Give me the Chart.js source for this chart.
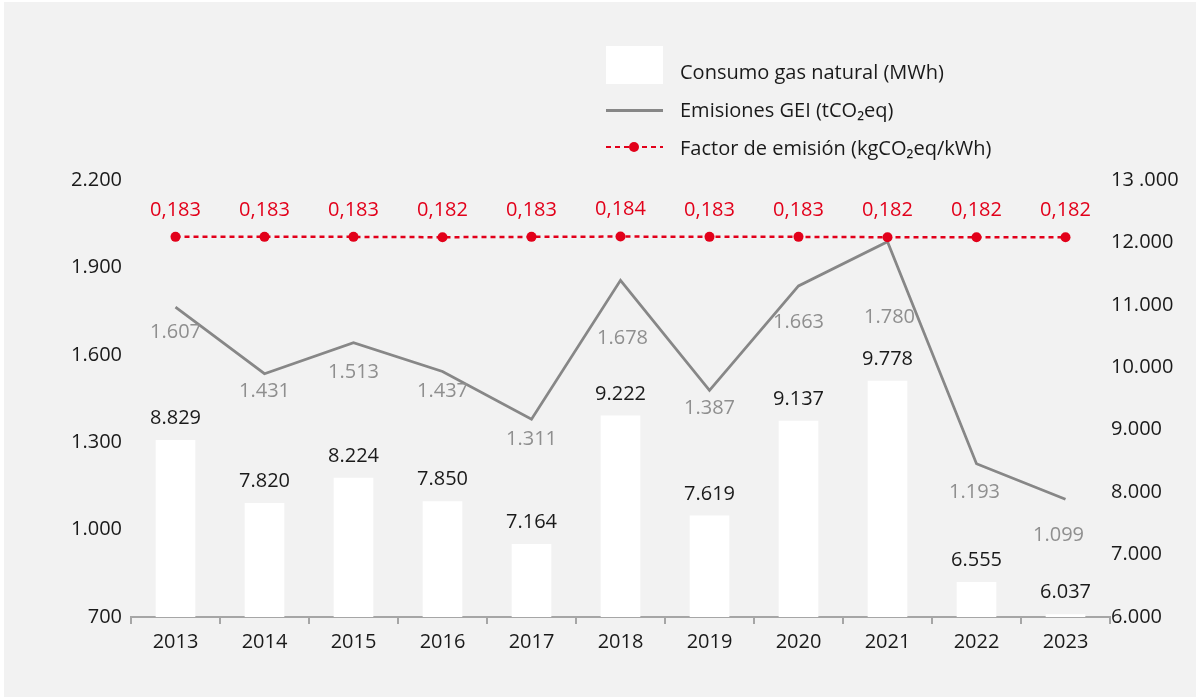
<!DOCTYPE html>
<html lang="es">
<head>
<meta charset="utf-8">
<title>Consumo gas natural y emisiones GEI</title>
<script src="https://cdn.jsdelivr.net/npm/chart.js@4.4.1/dist/chart.umd.min.js"></script>
<style>
  html, body { margin: 0; padding: 0; background: #ffffff; }
  #panel { position: absolute; left: 4px; top: 2px; width: 1192px; height: 695px; background: #f2f2f2; }
  #chart { position: absolute; left: 0; top: 0; }
  #leyenda { position: absolute; left: 606px; top: 46px; font-family: "Open Sans", sans-serif; font-size: 20px; color: #1a1a1a; }
  .item { position: relative; height: 38px; }
  .item .txt { position: absolute; left: 74px; top: 50%; margin-top: 6px; transform: translateY(-50%); white-space: nowrap; }
  .sw-bar { position: absolute; left: 0; top: 0; width: 57px; height: 38px; background: #fff; }
  .sw-line { position: absolute; left: 0; top: 50%; width: 57px; height: 3px; margin-top: 6px; }
  .sw-dash { position: absolute; left: 0; top: 50%; width: 57px; height: 2px; margin-top: 5px; }
  .sw-dot { position: absolute; left: 23px; top: 50%; width: 10px; height: 10px; margin-top: 1px; border-radius: 50%; }
</style>
</head>
<body>
<div id="panel"></div>
<canvas id="chart" width="1197" height="699"></canvas>
<div id="leyenda"></div>
<script>
// Datos
const years = ['2013', '2014', '2015', '2016', '2017', '2018', '2019', '2020', '2021', '2022', '2023'];
const gasMWh = [8829, 7820, 8224, 7850, 7164, 9222, 7619, 9137, 9778, 6555, 6037];
const emisionesGEI = [1607, 1431, 1513, 1437, 1311, 1678, 1387, 1663, 1780, 1193, 1099];
const factorEmision = [0.183, 0.183, 0.183, 0.182, 0.183, 0.184, 0.183, 0.183, 0.182, 0.182, 0.182];
const leftTicks = ['700', '1.000', '1.300', '1.600', '1.900', '2.200'];
const rightTicks = ['6.000', '7.000', '8.000', '9.000', '10.000', '11.000', '12.000', '13 .000'];

// ajuste de las etiquetas grises (estilo, no datos)
const grayLabelDy = [25, 18, 30, 20, 20, 58, 18, 36, 76, 29, 36];
const grayLabelDx = [0, 0, 0, 0, 0, 2, 0, 0, 2, -2, -7];

const RED = '#e2001a';
const GRAY = '#878787';
const FONT = '"Open Sans", sans-serif';
const SIZE = 20;

const miles = v => String(v).replace(/\B(?=(\d{3})+(?!\d))/g, '.');
const decimal = v => v.toFixed(3).replace('.', ',');

const etiquetas = {
  id: 'etiquetas',
  afterDatasetsDraw(chart) {
    const ctx = chart.ctx;
    ctx.save();
    ctx.font = SIZE + 'px ' + FONT;
    ctx.textAlign = 'center';
    ctx.textBaseline = 'middle';
    chart.data.datasets.forEach((ds, di) => {
      const meta = chart.getDatasetMeta(di);
      meta.data.forEach((el, i) => {
        const v = ds.data[i];
        if (ds.kind === 'bar') {
          ctx.fillStyle = '#1a1a1a';
          ctx.fillText(miles(v), el.x, el.y - 22);
        } else if (ds.kind === 'line') {
          ctx.fillStyle = '#8f8f8f';
          ctx.fillText(miles(v), el.x + grayLabelDx[i], el.y + grayLabelDy[i]);
        } else {
          ctx.fillStyle = RED;
          ctx.fillText(decimal(v), el.x, el.y - 27);
        }
      });
    });
    ctx.restore();
  }
};

const chart = new Chart(document.getElementById('chart'), {
  data: {
    labels: years,
    datasets: [
      { type: 'line', kind: 'dash', label: 'Factor de emisión (kgCO₂eq/kWh)', data: factorEmision, yAxisID: 'yFactor',
        borderColor: RED, borderWidth: 2.5, borderDash: [5, 4], pointRadius: 5, pointBackgroundColor: RED,
        pointBorderWidth: 0, order: 1 },
      { type: 'line', kind: 'line', label: 'Emisiones GEI (tCO₂eq)', data: emisionesGEI, yAxisID: 'yGEI',
        borderColor: GRAY, borderWidth: 2.75, pointRadius: 0, tension: 0, order: 2 },
      { type: 'bar', kind: 'bar', label: 'Consumo gas natural (MWh)', data: gasMWh, yAxisID: 'yRight',
        backgroundColor: '#ffffff', barThickness: 39, order: 3 }
    ]
  },
  options: {
    responsive: false,
    animation: false,
    layout: { padding: { top: 180, right: 0, bottom: 0, left: 0 } },
    plugins: { legend: { display: false }, tooltip: { enabled: false } },
    scales: {
      x: {
        offset: true,
        grid: { offset: true, drawOnChartArea: false, drawTicks: true, tickLength: 7, color: '#a6a6a6', lineWidth: 2 },
        border: { color: '#a6a6a6', width: 2 },
        ticks: { color: '#1a1a1a', font: { family: FONT, size: SIZE }, padding: 6, maxRotation: 0 },
        afterFit: s => { s.height = 82; }
      },
      yLeft: {
        position: 'left', min: 700, max: 2200,
        grid: { display: false, drawTicks: false }, border: { display: false },
        ticks: { stepSize: 300, padding: 9, color: '#1a1a1a', font: { family: FONT, size: SIZE },
          callback: (v, i) => leftTicks[i] },
        afterFit: s => { s.width = 131; }
      },
      yRight: {
        position: 'right', min: 6000, max: 13000,
        grid: { display: false, drawTicks: false }, border: { display: false },
        ticks: { stepSize: 1000, padding: 1, color: '#1a1a1a', font: { family: FONT, size: SIZE },
          callback: (v, i) => rightTicks[i] },
        afterFit: s => { s.width = 87; }
      },
      yGEI: { display: false, min: 788, max: 1943 },
      yFactor: { display: false, min: -1, max: 0.36 }
    }
  },
  plugins: [etiquetas]
});

// Leyenda HTML a partir de los datasets
const leyenda = document.getElementById('leyenda');
['bar', 'line', 'dash'].forEach(kind => {
  const ds = chart.data.datasets.find(d => d.kind === kind);
  let sw = '';
  if (kind === 'bar') sw = '<div class="sw-bar"></div>';
  if (kind === 'line') sw = '<div class="sw-line" style="background:' + GRAY + '"></div>';
  if (kind === 'dash') sw = '<div class="sw-dash" style="background:repeating-linear-gradient(to right,' + RED + ' 0 5px,transparent 5px 9px)"></div>' +
    '<div class="sw-dot" style="background:' + RED + '"></div>';
  leyenda.innerHTML += '<div class="item">' + sw + '<span class="txt">' + ds.label + '</span></div>';
});
</script>
</body>
</html>
